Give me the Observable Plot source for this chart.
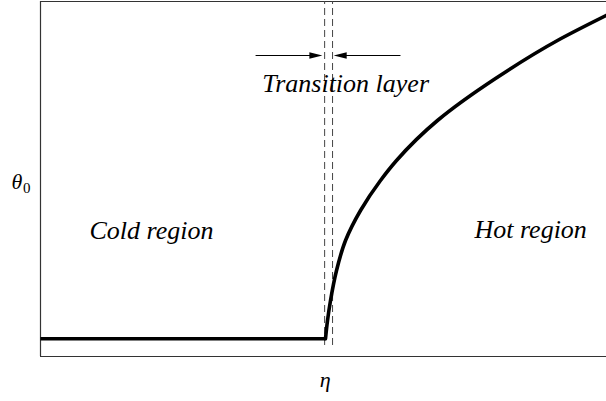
<!DOCTYPE html>
<html>
<head>
<meta charset="utf-8">
<script src="https://cdn.jsdelivr.net/npm/d3@7"></script>
<script src="https://cdn.jsdelivr.net/npm/@observablehq/plot@0.6"></script>
<style>
  html, body { margin: 0; padding: 0; background: #fff; }
  svg { display: block; }
  svg text { font-family: "Liberation Serif", "Times New Roman", serif; }
</style>
</head>
<body>
<div id="chart"></div>
<script>
// Temperature profile θ0 against η: flat cold region, then a square-root-like rise
const flatEta = [0, 5.035];
const flatTheta = [0, 0];
const riseEta = [5.035, 5.071, 5.124, 5.23, 5.389, 5.654, 6.007, 6.29, 7.014, 8.039, 9.134, 10];
const riseTheta = [0, 0.514, 1.077, 1.923, 2.768, 3.613, 4.458, 5.021, 6.148, 7.331, 8.401, 9.11];

// Edges of the thin transition layer
const layerEdges = [5.02, 5.16];
const layerTop = 9.5;
const layerBottom = -0.19;

// Arrows pointing in at the layer
const arrowY = 7.98;
const arrowStart = [3.80, 6.36];
const arrowTip = [4.98, 5.18];

// Region annotations
const regionNames = ["Transition layer", "Cold region", "Hot region"];
const regionEta = [5.39, 1.96, 8.66];
const regionTheta = [6.96, 2.82, 2.85];

const flat = flatEta.map((x, i) => ({x, y: flatTheta[i]}));
const rise = riseEta.map((x, i) => ({x, y: riseTheta[i]}));
const arrows = arrowStart.map((x1, i) => ({x1, x2: arrowTip[i], y: arrowY, dir: x1 < arrowTip[i] ? 1 : -1}));
const labels = regionNames.map((t, i) => ({t, x: regionEta[i], y: regionTheta[i]}));

// Narrow filled arrowheads with the tip at the anchor point
const headRight = {draw(ctx) { ctx.moveTo(0, 0); ctx.lineTo(-13, -3.2); ctx.lineTo(-13, 3.2); ctx.closePath(); }};
const headLeft = {draw(ctx) { ctx.moveTo(0, 0); ctx.lineTo(13, -3.2); ctx.lineTo(13, 3.2); ctx.closePath(); }};

const serif = "Liberation Serif";

const chart = Plot.plot({
  width: 606,
  height: 401,
  marginLeft: 40,
  marginRight: 0,
  marginTop: 1,
  marginBottom: 45,
  style: {background: "#fff"},
  x: {domain: [0, 10], axis: null},
  y: {domain: [-0.5, 9.5], axis: null},
  marks: [
    // open frame: left, top and bottom edges
    Plot.ruleX([0], {stroke: "#333", strokeWidth: 1.2}),
    Plot.ruleY([9.5, -0.5], {stroke: "#333", strokeWidth: 1.2}),
    // transition layer edges
    Plot.ruleX(layerEdges, {y1: layerBottom, y2: layerTop, stroke: "#444", strokeWidth: 1, strokeDasharray: "7,4"}),
    // arrows
    Plot.link(arrows, {x1: "x1", x2: d => d.x2 - d.dir * 0.15, y1: "y", y2: "y", stroke: "#000", strokeWidth: 1.1}),
    Plot.dot(arrows.filter(d => d.dir > 0), {x: "x2", y: "y", symbol: headRight, fill: "#000", stroke: "none"}),
    Plot.dot(arrows.filter(d => d.dir < 0), {x: "x2", y: "y", symbol: headLeft, fill: "#000", stroke: "none"}),
    // the profile
    Plot.line(flat, {x: "x", y: "y", stroke: "#000", strokeWidth: 3.6, strokeLinecap: "butt"}),
    Plot.line(rise, {x: "x", y: "y", stroke: "#000", strokeWidth: 3.6, curve: "monotone-y", strokeLinejoin: "round"}),
    // annotations
    Plot.text(labels, {x: "x", y: "y", text: "t", fontFamily: serif, fontSize: 26, fontStyle: "italic", lineAnchor: "bottom", textAnchor: "middle", fill: "#000"}),
    // axis labels
    Plot.text(["θ"], {x: -0.415, y: 4.23, text: d => d, fontFamily: serif, fontSize: 22, fontStyle: "italic", lineAnchor: "bottom", textAnchor: "middle", fill: "#000", clip: false}),
    Plot.text(["0"], {x: -0.245, y: 4.1, text: d => d, fontFamily: serif, fontSize: 15, lineAnchor: "bottom", textAnchor: "middle", fill: "#000", clip: false}),
    Plot.text(["η"], {x: 5.03, y: -1.37, text: d => d, fontFamily: serif, fontSize: 22, fontStyle: "italic", lineAnchor: "bottom", textAnchor: "middle", fill: "#000", clip: false})
  ]
});
document.getElementById("chart").append(chart);
</script>
</body>
</html>
